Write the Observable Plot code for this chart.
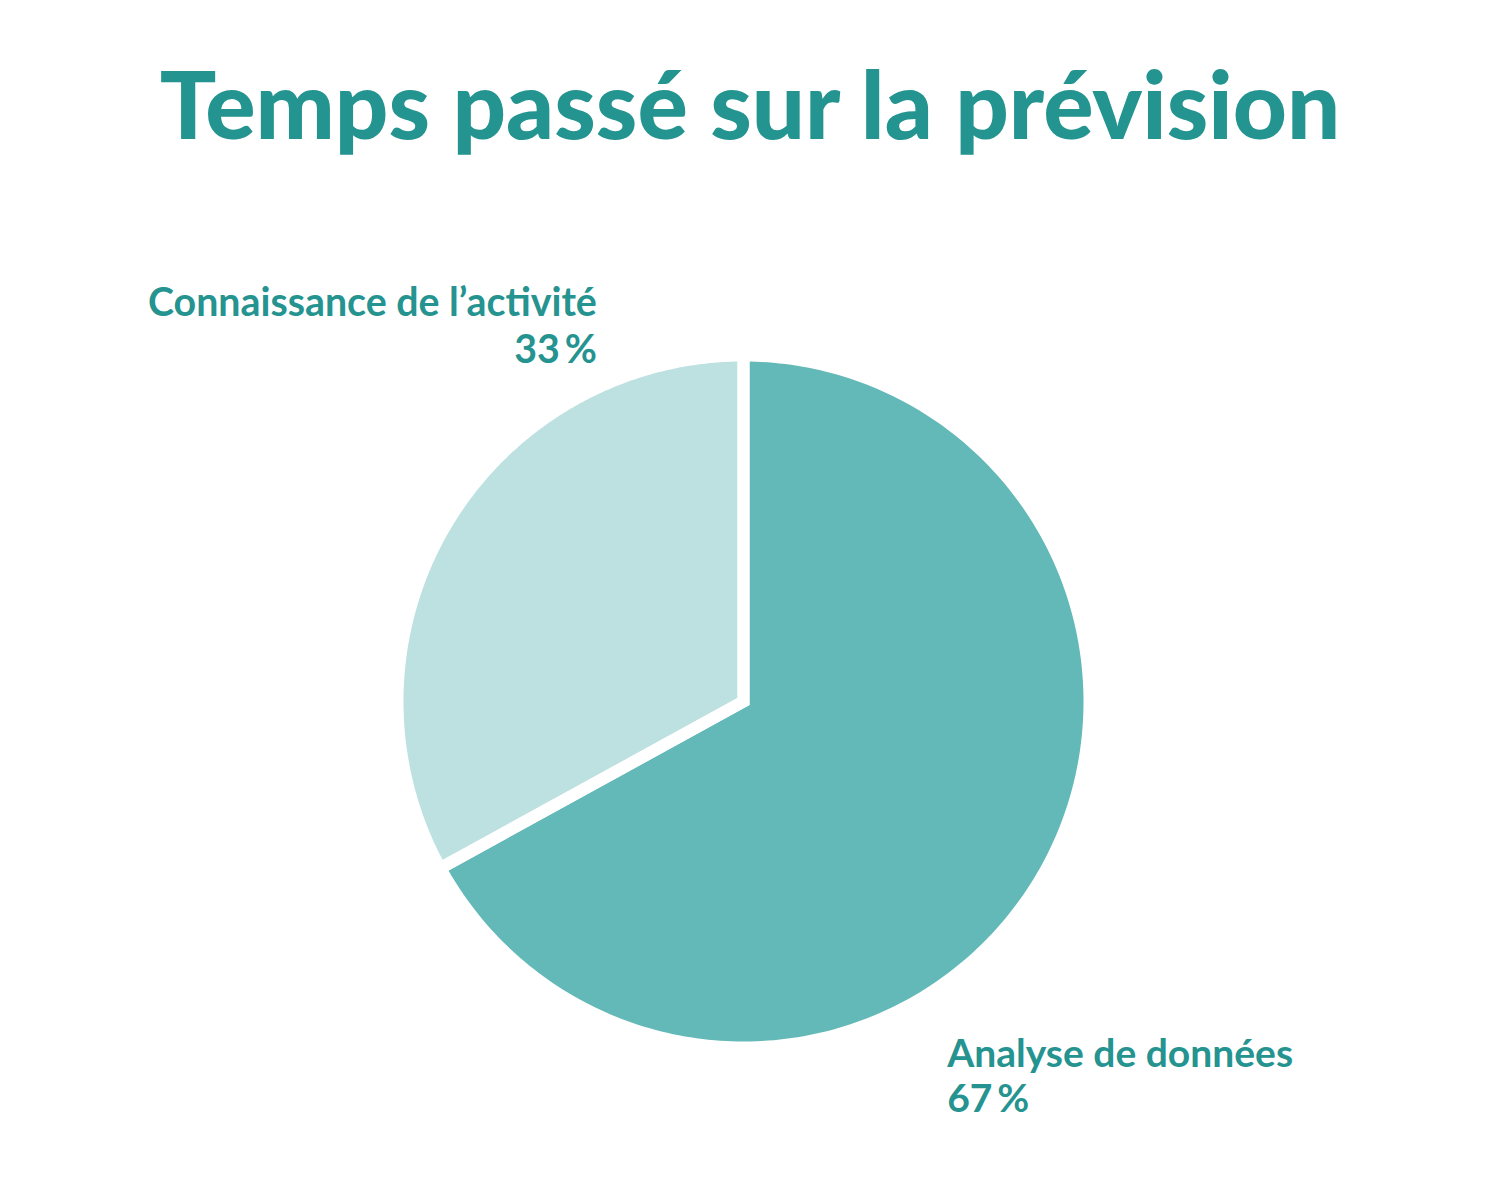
<!DOCTYPE html>
<html>
<head>
<meta charset="utf-8">
<script src="https://cdn.jsdelivr.net/npm/d3@7"></script>
<script src="https://cdn.jsdelivr.net/npm/@observablehq/plot@0.6"></script>
<style>
  html, body { margin: 0; padding: 0; background: #fff; }
  #title {
    height: 200px; width: 1500px; box-sizing: border-box;
    font-family: Lato, sans-serif; font-weight: 900; font-size: 94px;
    color: #23948f; text-align: center; line-height: 1; padding-top: 56px;
  }
  #chart svg { display: block; }
</style>
</head>
<body>
<div id="title">Temps passé sur la prévision</div>
<div id="chart"></div>
<script>
const categories = ["Analyse de données", "Connaissance de l’activité"];
const shares = [67, 33];
const valueLabels = ["67\u2009%", "33\u2009%"];
const colors = ["#63b9b8", "#bde0e0"];

const rows = categories.map((name, i) => ({name, value: shares[i], label: valueLabels[i]}));
const arcs = d3.pie().sort(null).value(d => d.value)(rows);

// polygon vertices of each slice in unit-circle coordinates (angle clockwise from top)
const slicePts = [];
for (const a of arcs) {
  slicePts.push({name: a.data.name, x: 0, y: 0});
  const n = 240;
  for (let k = 0; k <= n; k++) {
    const t = a.startAngle + (a.endAngle - a.startAngle) * k / n;
    slicePts.push({name: a.data.name, x: Math.sin(t), y: Math.cos(t)});
  }
}
// white separators along slice boundaries
const sepPts = [];
for (const a of arcs) {
  const r = 1.06;
  sepPts.push({name: a.data.name, x: r * Math.sin(a.startAngle), y: r * Math.cos(a.startAngle)});
  sepPts.push({name: a.data.name, x: 0, y: 0});
  sepPts.push({name: a.data.name, x: r * Math.sin(a.endAngle), y: r * Math.cos(a.endAngle)});
}
// label anchors at the slice mid-angles
const labelPts = arcs.map(a => {
  const m = (a.startAngle + a.endAngle) / 2;
  return {name: a.data.name, text: a.data.name + "\n" + a.data.label, x: Math.sin(m), y: Math.cos(m)};
});

const chart = Plot.plot({
  width: 1500,
  height: 979,
  margin: 0,
  x: {domain: [-1, 1], range: [403, 1083], axis: null},
  y: {domain: [-1, 1], range: [841, 161], axis: null},
  color: {domain: categories, range: colors},
  style: {fontFamily: "Lato, sans-serif", background: "#fff"},
  marks: [
    Plot.line(slicePts, {x: "x", y: "y", z: "name", fill: "name", stroke: "none", curve: "linear-closed"}),
    Plot.line(sepPts, {x: "x", y: "y", z: "name", stroke: "#fff", strokeWidth: 12,
      strokeLinejoin: "miter", strokeLinecap: "butt", strokeMiterlimit: 10}),
    Plot.text(labelPts.filter(d => d.name === categories[1]), {x: "x", y: "y", text: "text",
      textAnchor: "end", lineAnchor: "top", dx: 146, dy: -245,
      fontSize: 39.3, fontWeight: 700, lineHeight: 1.18, fill: "#25938f"}),
    Plot.text(labelPts.filter(d => d.name === categories[0]), {x: "x", y: "y", text: "text",
      textAnchor: "start", lineAnchor: "top", dx: -89, dy: 161,
      fontSize: 39, fontWeight: 700, lineHeight: 1.14, fill: "#25938f"})
  ]
});
document.getElementById("chart").appendChild(chart);
</script>
</body>
</html>
